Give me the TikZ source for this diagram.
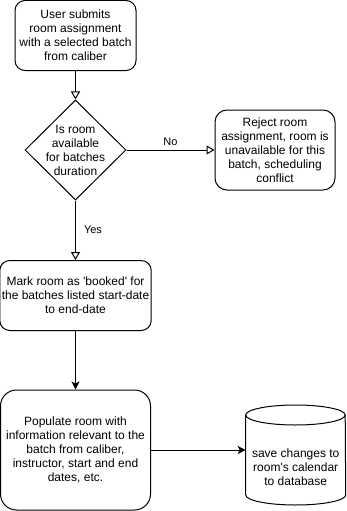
\documentclass[tikz,border=0pt]{standalone}
\usepackage{fontspec}
\setmainfont{Liberation Sans}
\usetikzlibrary{arrows.meta,shapes.geometric}

\tikzset{
  stepbox/.style={draw, rounded corners=10pt, align=center, inner sep=2pt},
  decision/.style={draw, diamond, aspect=1, align=center, inner sep=-5pt,
    minimum width=101pt, minimum height=100pt},
  openarrow/.style={-{Triangle[open,length=8pt,width=9pt]}},
  solidarrow/.style={-{Stealth[length=8pt,width=8pt,inset=2pt]}},
  edgelabel/.style={font=\fontsize{11}{13}\selectfont, inner sep=1pt}
}

\begin{document}
\begin{tikzpicture}[x=1pt, y=-1pt, line width=1pt, font=\fontsize{12}{14}\selectfont]
\useasboundingbox (0,0) rectangle (346,511);
% main flow
\node[stepbox, minimum width=121pt, minimum height=70pt] (submit) at (75.5,35.5)
  {User submits\\room assignment\\with a selected batch\\from caliber};
\node[decision] (avail) at (75.5,150) {Is room\\available\\for batches\\duration};
\node[stepbox, rounded corners=12pt, minimum width=120pt, minimum height=80pt] (reject) at (275,150)
  {Reject room\\assignment, room is\\unavailable for this\\batch, scheduling\\conflict};
\node[stepbox, minimum width=150pt, minimum height=70pt] (mark) at (75.5,295.5)
  {Mark room as \textquotesingle booked\textquotesingle{} for\\the batches listed start-date\\to end-date};
\node[stepbox, rounded corners=16pt, minimum width=150pt, minimum height=120pt] (populate) at (75.5,450)
  {Populate room with\\information relevant to the\\batch from caliber,\\instructor, start and end\\dates, etc.};
% database cylinder
\draw (245.7,415) -- (245.7,495) arc[start angle=180, end angle=0, x radius=50, y radius=10]
  -- (345.2,415);
\draw (295.45,415) ellipse [x radius=49.75, y radius=10];
\node[align=center] (save) at (295.7,467) {save changes to\\room\textquotesingle s calendar\\to database};
\coordinate (dbside) at (245.7,450);
% connectors
\draw[openarrow] (submit) -- (avail);
\draw[openarrow] (avail) -- node[edgelabel, above=3pt] {No} (reject);
\draw[openarrow] (avail) -- node[edgelabel, right=7pt] {Yes} (mark);
\draw[solidarrow] (mark) -- (populate);
\draw[solidarrow] (populate) -- (dbside);
\end{tikzpicture}
\end{document}
